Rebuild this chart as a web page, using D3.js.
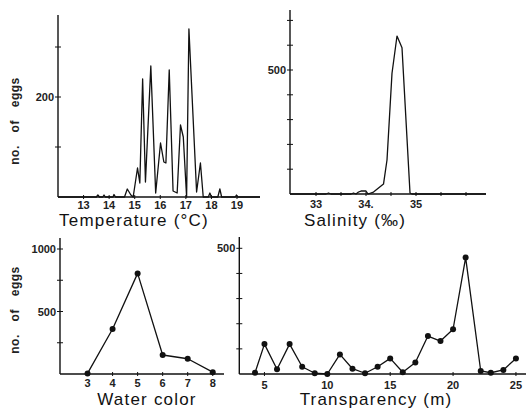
<!DOCTYPE html>
<html lang="en">
<head>
<meta charset="UTF-8" />
<title>Eggs vs environment</title>
<script src="https://d3js.org/d3.v7.min.js"></script>
<style>
    body { margin: 0; background: #fff; }
    svg { font-family: "Liberation Sans", Arial, sans-serif; }
    .tick-label { font-size: 11px; font-weight: bold; fill: #222; }
    .title { font-size: 17px; fill: #111; letter-spacing: 1.2px; }
    .ylab { font-size: 12px; font-weight: bold; fill: #222; word-spacing: 9px; letter-spacing: 0.5px; }
</style>
</head>
<body>
<svg width="526" height="410"></svg>
<script>
    // temperature (deg C) vs no. of eggs
    const tempX = [12.0, 13.5, 13.56, 13.62, 13.75, 13.8, 13.85, 14.15, 14.19, 14.25, 14.6, 14.71, 14.85, 14.94,
        15.11, 15.2, 15.31, 15.42, 15.63, 15.82, 16.01, 16.14, 16.22, 16.35, 16.5, 16.66, 16.79, 16.9,
        17.03, 17.12, 17.42, 17.57, 17.68, 17.88, 17.94, 18.0, 18.25, 18.33, 18.4, 18.93, 18.98, 19.03, 19.9];
    const tempY = [0, 0, 4, 0, 0, 4, 0, 0, 5, 0, 0, 16, 4, 0,
        58, 28, 236, 30, 262, 8, 108, 70, 68, 254, 12, 8, 144, 120,
        0, 336, 10, 68, 0, 0, 8, 0, 0, 16, 0, 0, 4, 0, 0];

    // salinity (permille) vs no. of eggs
    const salX = [32.48, 33.2, 33.25, 33.3, 33.7, 33.75, 33.8, 33.85, 33.9, 34.0, 34.04, 34.15, 34.35, 34.42, 34.52, 34.62, 34.72, 34.88, 34.92, 36.4];
    const salY = [0, 0, 4, 0, 0, 4, 0, 8, 12, 12, 0, 8, 40, 137, 487, 637, 590, 4, 0, 0];

    // water color vs no. of eggs
    const colorX = [3, 4, 5, 6, 7, 8];
    const colorY = [5, 360, 805, 152, 122, 15];

    // transparency (m) vs no. of eggs
    const transX = [4.25, 5, 6, 7, 8, 9, 10, 11, 12, 13, 14, 15, 16, 17, 18, 19, 20, 21, 22.2, 23, 24, 25];
    const transY = [5, 119, 19, 119, 29, 3, 0, 78, 21, 3, 29, 62, 7, 46, 151, 131, 178, 463, 12, 5, 16, 62];

    const svg = d3.select("svg");

    // one panel: axes, curve, optional dots
    function panel(opt) {
        const x = d3.scaleLinear().domain(opt.xDomain).range(opt.xRange);
        const y = d3.scaleLinear().domain(opt.yDomain).range(opt.yRange);
        const g = svg.append("g");

        // y axis line + ticks crossing it
        g.append("line")
            .attr("x1", x(opt.xDomain[0])).attr("x2", x(opt.xDomain[0]))
            .attr("y1", y(0)).attr("y2", y(opt.yDomain[1]))
            .attr("stroke", "#111").attr("stroke-width", 1.4);
        g.selectAll(".yt").data(opt.yTicks).enter().append("line")
            .attr("x1", x(opt.xDomain[0]) - 3).attr("x2", x(opt.xDomain[0]) + 3)
            .attr("y1", d => y(d)).attr("y2", d => y(d))
            .attr("stroke", "#111").attr("stroke-width", 1);
        g.selectAll(".yl").data(opt.yLabels).enter().append("text")
            .attr("class", "tick-label")
            .attr("x", x(opt.xDomain[0]) - 4).attr("y", d => y(d) + 4)
            .attr("text-anchor", "end").text(d => d);

        // x axis
        g.append("line")
            .attr("x1", x(opt.xDomain[0])).attr("x2", x(opt.xDomain[1]))
            .attr("y1", y(0)).attr("y2", y(0))
            .attr("stroke", "#111").attr("stroke-width", 1.4);
        g.selectAll(".xt").data(opt.xTicks).enter().append("line")
            .attr("x1", d => x(d)).attr("x2", d => x(d))
            .attr("y1", y(0) - 2).attr("y2", y(0) + 2)
            .attr("stroke", "#111").attr("stroke-width", 1);
        g.selectAll(".xl").data(opt.xLabels).enter().append("text")
            .attr("class", "tick-label")
            .attr("x", d => x(d)).attr("y", y(0) + opt.labelDy)
            .attr("text-anchor", "middle").text(d => opt.fmt ? opt.fmt(d) : d);

        // the curve
        const line = d3.line().x(d => x(d[0])).y(d => y(d[1]));
        const pts = opt.xs.map((v, i) => [v, opt.ys[i]]);
        g.append("path").datum(pts)
            .attr("d", line)
            .attr("fill", "none")
            .attr("stroke", "#111")
            .attr("stroke-width", 1.3)
            .attr("stroke-linejoin", "round");

        if (opt.dots) {
            g.selectAll(".dot").data(pts).enter().append("circle")
                .attr("cx", d => x(d[0])).attr("cy", d => y(d[1]))
                .attr("r", 3).attr("fill", "#111");
        }

        // title
        g.append("text").attr("class", "title")
            .attr("x", opt.titleX).attr("y", opt.titleY)
            .attr("text-anchor", "middle").text(opt.title);
    }

    panel({
        xs: tempX, ys: tempY,
        xDomain: [12, 19.9], xRange: [58, 260],
        yDomain: [0, 364], yRange: [197, 15],
        yTicks: [100, 200, 300], yLabels: [200],
        xTicks: [13, 14, 15, 16, 17, 18, 19], xLabels: [13, 14, 15, 16, 17, 18, 19],
        labelDy: 12, title: "Temperature (°C)", titleX: 134, titleY: 226
    });

    panel({
        xs: salX, ys: salY,
        xDomain: [32.48, 36.4], xRange: [290, 486],
        yDomain: [0, 742], yRange: [194, 10],
        yTicks: [100, 200, 300, 400, 500, 600, 700], yLabels: [500],
        xTicks: [33, 33.5, 34, 34.5, 35, 35.5, 36], xLabels: [33, 34, 35],
        fmt: d => d === 34 ? "34." : d,
        labelDy: 14, title: "Salinity (‰)", titleX: 355, titleY: 226
    });

    panel({
        xs: colorX, ys: colorY, dots: true,
        xDomain: [1.9, 8.45], xRange: [60, 224],
        yDomain: [0, 1088], yRange: [374, 238],
        yTicks: [250, 500, 750, 1000], yLabels: [500, 1000],
        xTicks: [3, 4, 5, 6, 7, 8], xLabels: [3, 4, 5, 6, 7, 8],
        labelDy: 13, title: "Water color", titleX: 147, titleY: 405
    });

    panel({
        xs: transX, ys: transY, dots: true,
        xDomain: [3, 25.8], xRange: [239.3, 526],
        yDomain: [0, 545], yRange: [374, 237],
        yTicks: [100, 200, 300, 400, 500], yLabels: [500],
        xTicks: [5, 10, 15, 20, 25], xLabels: [5, 10, 15, 20, 25],
        labelDy: 15, title: "Transparency (m)", titleX: 376, titleY: 405
    });

    // rotated y labels
    [[15, 121], [15, 310]].forEach(p => {
        svg.append("text").attr("class", "ylab")
            .attr("transform", "translate(" + (p[0] + 4) + "," + p[1] + ") rotate(-90)")
            .attr("text-anchor", "middle")
            .text("no. of eggs");
    });
</script>
</body>
</html>
